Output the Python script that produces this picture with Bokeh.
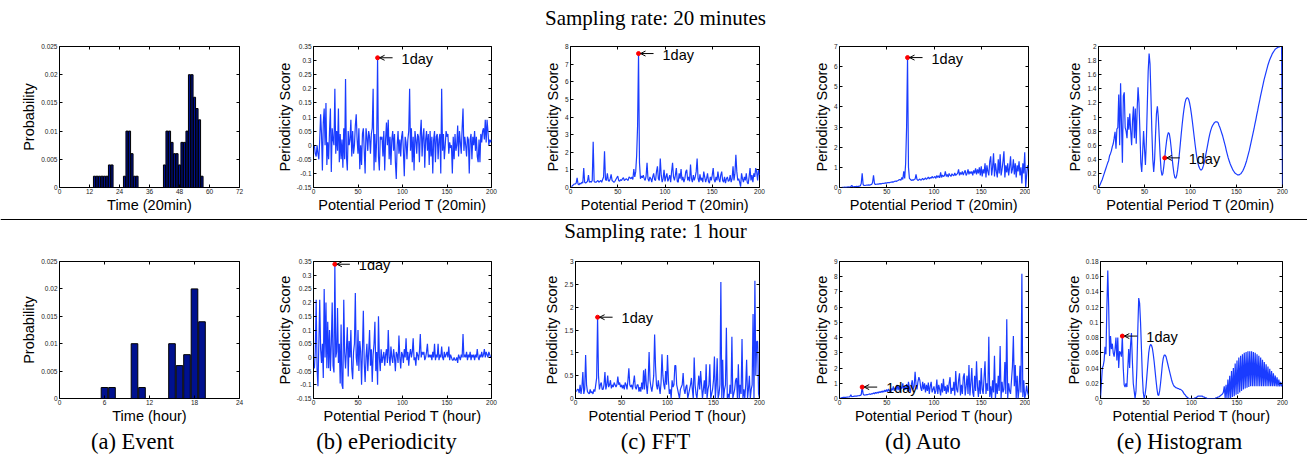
from bokeh.plotting import figure
from bokeh.models import (Range1d, FixedTicker, CustomJSTickFormatter, LinearAxis,
                          Label, Arrow, OpenHead, Span)
from bokeh.layouts import column, row
from bokeh.embed import file_html
from bokeh.resources import INLINE

# ---------------- data ----------------
event20_t = [14, 15, 16, 17, 18, 19, 20, 21, 26, 27, 28, 29, 30, 31, 42, 43, 44, 45, 46, 47,
             48, 49, 50, 51, 52, 53, 54, 55, 56, 57]
event20_p = [0.002, 0.002, 0.002, 0.002, 0.002, 0.002, 0.004, 0.004, 0.002, 0.010, 0.010, 0.006,
             0.002, 0.002, 0.004, 0.010, 0.010, 0.008, 0.006, 0.006, 0.004, 0.008, 0.008, 0.010,
             0.020, 0.020, 0.016, 0.014, 0.012, 0.002]
event1h_t = [6, 7, 10, 11, 15, 16, 17, 18, 19]
event1h_p = [0.002, 0.002, 0.010, 0.002, 0.010, 0.006, 0.008, 0.020, 0.014]

periods = list(range(1, 201))
periods0 = list(range(0, 201))

eper20 = [0.0, -0.03, -0.04, 0.0, -0.03, -0.05, 0.02, 0.11, 0.04, -0.09,
          0.08, 0.13, 0.0, 0.15, -0.07, 0.01, -0.05, 0.05, 0.13, -0.095,
          0.06, 0.02, 0.0, 0.20, -0.03, 0.05, -0.02, 0.13, -0.06, 0.04,
          -0.05, 0.02, -0.08, 0.06, -0.05, 0.235, -0.04, -0.09, 0.05, 0.0,
          0.02, 0.09, -0.04, 0.05, -0.03, 0.0, 0.07, 0.11, 0.02, -0.03,
          0.06, -0.085, 0.0, -0.07, 0.04, 0.06, -0.02, -0.10, 0.06, 0.03,
          -0.02, 0.05, 0.03, -0.03, 0.04, 0.06, 0.20, -0.09, 0.04, -0.06,
          0.02, 0.31, -0.04, -0.09, 0.03, 0.02, 0.03, -0.04, 0.05, -0.09,
          0.02, 0.08, 0.0, 0.09, -0.05, 0.03, -0.07, 0.02, 0.05, -0.02,
          0.04, -0.06, -0.12, 0.0, 0.05, -0.03, 0.02, -0.04, 0.03, 0.05,
          -0.02, -0.11, 0.03, 0.01, -0.05, 0.02, 0.05, 0.20, -0.02, 0.06,
          -0.06, 0.03, -0.09, 0.05, 0.02, -0.03, 0.04, 0.03, -0.06, 0.04,
          0.09, -0.04, 0.03, 0.06, -0.08, 0.02, 0.05, -0.02, 0.04, -0.07,
          0.05, -0.04, 0.03, -0.10, 0.02, 0.05, -0.06, 0.03, 0.04, -0.05,
          0.02, 0.04, -0.10, 0.20, -0.02, 0.04, -0.05, 0.0, 0.05, 0.03,
          0.04, -0.03, 0.01, -0.01, 0.0, -0.10, 0.03, -0.05, 0.04, -0.02,
          0.0, 0.07, -0.04, 0.05, 0.01, -0.03, 0.06, 0.13, -0.02, 0.03,
          0.0, -0.04, 0.03, 0.02, -0.10, 0.02, 0.04, -0.05, 0.03, 0.0,
          0.05, -0.02, 0.03, -0.04, -0.06, 0.02, -0.06, 0.04, 0.01, 0.05,
          0.06, 0.02, 0.09, 0.01, 0.09, 0.05, 0.0, 0.02, 0.01, 0.02]

fft20 = [0.05, 0.1, 0.15, 0.2, 0.2, 0.25, 0.55, 0.2, 0.15, 0.25,
         0.2, 0.3, 0.25, 1.1, 0.3, 0.25, 0.3, 0.35, 0.7, 0.3,
         0.35, 0.3, 0.4, 2.6, 0.35, 0.3, 0.3, 0.35, 0.4, 0.3,
         0.35, 0.4, 0.3, 0.45, 0.6, 2.05, 0.45, 0.4, 0.8, 0.4,
         0.35, 0.5, 0.75, 0.4, 0.35, 0.3, 0.35, 0.45, 0.55, 0.65,
         0.4, 0.35, 0.45, 0.4, 0.5, 0.55, 0.4, 0.45, 0.5, 0.45,
         0.4, 0.6, 0.55, 0.5, 0.6, 0.45, 1.05, 0.6, 0.9, 1.8,
         3.5, 7.6, 1.4, 0.5, 0.65, 0.55, 0.7, 0.5, 0.4, 0.65,
         1.4, 0.5, 0.35, 0.6, 0.5, 0.3, 0.6, 0.8, 0.45, 0.4,
         0.9, 1.2, 0.5, 0.4, 1.65, 0.7, 0.3, 0.5, 1.0, 0.35,
         0.6, 0.8, 0.35, 0.5, 0.7, 0.3, 0.9, 1.4, 0.6, 0.4,
         0.7, 1.1, 0.35, 0.3, 0.8, 0.5, 1.05, 0.4, 0.6, 0.3,
         0.5, 0.9, 1.0, 0.4, 0.6, 0.35, 1.3, 0.5, 0.3, 0.7,
         0.4, 0.6, 0.9, 1.65, 0.5, 0.3, 0.75, 0.4, 0.55, 0.3,
         0.9, 0.6, 0.3, 0.5, 0.8, 0.35, 0.25, 0.6, 0.4, 0.7,
         1.1, 0.45, 0.3, 0.6, 0.4, 0.9, 0.5, 0.3, 0.7, 0.9,
         0.4, 0.3, 0.6, 0.25, 0.5, 0.6, 0.35, 0.4, 0.7, 0.3,
         0.5, 1.2, 0.4, 0.8, 1.85, 0.9, 0.4, 0.5, 0.3, 0.05,
         0.8, 0.5, 0.3, 0.6, 0.4, 0.8, 0.3, 0.2, 0.6, 1.1,
         0.4, 0.7, 0.3, 0.8, 0.6, 1.1, 0.9, 0.4, 1.05, 0.7]

auto20 = [0.0, 0.0, 0.01, 0.0, 0.02, 0.01, 0.02, 0.01, 0.03, 0.02,
          0.03, 0.05, 0.1, 0.04, 0.03, 0.05, 0.04, 0.06, 0.05, 0.06,
          0.07, 0.08, 0.2, 0.7, 0.15, 0.1, 0.1, 0.11, 0.12, 0.12,
          0.13, 0.12, 0.14, 0.15, 0.25, 0.6, 0.2, 0.15, 0.16, 0.17,
          0.17, 0.18, 0.19, 0.18, 0.2, 0.21, 0.2, 0.22, 0.23, 0.22,
          0.24, 0.25, 0.24, 0.26, 0.27, 0.28, 0.27, 0.3, 0.32, 0.3,
          0.33, 0.35, 0.38, 0.4, 0.36, 0.5, 0.4, 0.8, 0.45, 1.2,
          3.0, 6.45, 1.0, 0.45, 0.4, 0.35, 0.38, 0.36, 0.4, 0.42,
          0.65, 0.4, 0.35, 0.38, 0.42, 0.36, 0.4, 0.45, 0.38, 0.42,
          0.48, 0.4, 0.45, 0.52, 0.42, 0.5, 0.46, 0.55, 0.48, 0.5,
          0.55, 0.45, 0.6, 0.5, 0.58, 0.48, 0.75, 0.5, 0.62, 0.55,
          0.58, 0.8, 0.55, 0.65, 0.52, 0.7, 0.6, 0.55, 0.68, 0.62,
          0.58, 0.72, 0.6, 0.65, 0.7, 0.9, 0.6, 0.75, 0.65, 0.8,
          0.62, 0.75, 0.85, 0.6, 0.7, 0.9, 0.65, 0.8, 0.7, 0.8,
          0.6, 0.85, 0.7, 0.95, 0.65, 0.9, 0.7, 1.0, 0.6, 1.05,
          0.55, 0.9, 0.7, 1.2, 0.5, 1.1, 0.8, 0.6, 1.3, 1.55,
          0.6, 1.0, 1.7, 0.55, 1.2, 0.8, 0.5, 1.4, 0.7, 1.65,
          0.6, 0.9, 1.3, 1.8, 0.5, 1.1, 0.75, 1.2, 0.6, 1.0,
          1.55, 0.7, 0.9, 1.4, 0.65, 1.2, 0.5, 1.1, 0.8, 1.3,
          0.6, 1.0, 0.2, 1.2, 0.7, 1.75, 0.0, 0.6, 1.1, 0.9]

histo20 = [0.0, 0.02, 0.05, 0.08, 0.11, 0.15, 0.19, 0.23, 0.27, 0.31, 0.35,
           0.38, 0.45, 0.48, 0.52, 0.58, 0.62, 0.7, 0.79, 0.55, 0.83,
           0.85, 1.32, 0.6, 1.48, 0.9, 0.35, 1.3, 1.35, 0.85, 0.8,
           0.7, 1.0, 0.82, 1.05, 0.8, 0.6, 0.95, 1.15, 0.7, 1.12,
           0.62, 1.1, 1.42, 1.2, 0.8, 0.35, 0.22, 0.5, 0.8, 0.55,
           0.32, 0.65, 1.15, 1.65, 1.9, 1.75, 1.3, 0.8, 0.4, 0.22,
           0.4, 0.75, 1.05, 1.15, 1.0, 0.72, 0.45, 0.25, 0.17, 0.2,
           0.3, 0.42, 0.55, 0.66, 0.74, 0.78, 0.76, 0.68, 0.56, 0.42,
           0.3, 0.2, 0.14, 0.13, 0.17, 0.25, 0.36, 0.49, 0.63, 0.77,
           0.9, 1.02, 1.12, 1.2, 1.25, 1.27, 1.27, 1.25, 1.2, 1.13,
           1.04, 0.94, 0.83, 0.72, 0.61, 0.51, 0.42, 0.35, 0.3, 0.27,
           0.25, 0.25, 0.27, 0.31, 0.36, 0.42, 0.49, 0.56, 0.63, 0.7,
           0.76, 0.81, 0.85, 0.88, 0.9, 0.92, 0.93, 0.93, 0.93, 0.92,
           0.88, 0.85, 0.81, 0.77, 0.73, 0.68, 0.63, 0.58, 0.52, 0.47,
           0.42, 0.38, 0.34, 0.31, 0.28, 0.25, 0.23, 0.21, 0.2, 0.19,
           0.18, 0.18, 0.18, 0.19, 0.2, 0.22, 0.24, 0.27, 0.3, 0.34,
           0.38, 0.43, 0.48, 0.53, 0.59, 0.65, 0.71, 0.77, 0.83, 0.9,
           0.96, 1.03, 1.09, 1.16, 1.22, 1.29, 1.35, 1.41, 1.47, 1.53,
           1.58, 1.63, 1.68, 1.73, 1.77, 1.81, 1.84, 1.87, 1.9, 1.92,
           1.94, 1.96, 1.97, 1.98, 1.99, 1.99, 2.0, 2.0, 2.0, 0.0]

eper1h = [-0.04, 0.02, 0.21, -0.04, -0.105, 0.05, 0.21, 0.03, -0.02, 0.05,
          -0.075, 0.25, 0.0, 0.2, -0.04, 0.13, -0.04, 0.1, -0.05, 0.05,
          0.2, -0.03, -0.055, 0.34, 0.0, 0.02, 0.18, -0.02, 0.05, -0.095,
          0.12, -0.1, -0.115, 0.21, 0.02, -0.04, 0.03, 0.11, -0.07, 0.06,
          0.0, 0.1, -0.04, -0.08, 0.02, 0.05, 0.235, 0.0, -0.03, 0.1,
          -0.05, 0.06, 0.02, -0.1, 0.03, 0.17, -0.02, -0.09, 0.0, 0.05,
          -0.05, 0.02, 0.1, -0.03, 0.03, -0.09, 0.01, 0.05, 0.13, -0.05,
          0.02, -0.1, 0.15, 0.0, -0.05, 0.03, -0.02, 0.0, 0.02, -0.03,
          0.01, 0.03, -0.02, 0.1, 0.0, -0.03, 0.04, 0.0, -0.02, 0.03,
          0.0, -0.05, 0.02, 0.01, -0.02, 0.08, 0.0, -0.04, 0.02, 0.01,
          -0.02, 0.03, 0.0, 0.07, -0.01, 0.02, -0.03, 0.01, 0.03, 0.0,
          0.02, 0.07, -0.01, 0.0, -0.03, 0.02, 0.01, -0.01, 0.02, 0.085,
          0.0, 0.02, 0.01, 0.02, -0.01, 0.0, 0.02, 0.05, 0.0, 0.01,
          0.0, 0.01, -0.01, 0.02, 0.0, 0.05, -0.01, 0.01, 0.0, 0.05,
          -0.01, 0.01, 0.0, 0.04, 0.0, -0.01, 0.02, 0.0, 0.01, 0.02,
          0.0, 0.04, -0.01, 0.01, 0.0, -0.01, -0.01, 0.0, -0.01, -0.01,
          0.0, -0.02, 0.01, 0.0, -0.01, 0.01, 0.0, 0.085, 0.0, 0.01,
          0.0, 0.02, -0.01, 0.01, 0.0, 0.02, -0.01, 0.01, 0.0, 0.01,
          -0.01, 0.01, 0.0, 0.03, 0.0, -0.01, 0.01, 0.0, 0.02, 0.0,
          0.01, 0.03, 0.0, 0.02, 0.01, 0.0, 0.02, 0.01, 0.0, 0.0]

fft1h = [0.15, 0.2, 0.2, 0.12, 0.3, 0.1, 0.25, 0.58, 0.1, 0.2,
         0.95, 0.3, 0.15, 0.12, 0.1, 0.2, 0.12, 0.15, 0.1, 0.2,
         0.15, 0.3, 0.45, 1.78, 0.5, 0.2, 0.3, 0.35, 0.2, 0.2,
         0.3, 0.58, 0.2, 0.3, 0.5, 0.25, 0.3, 0.4, 0.22, 0.3,
         0.25, 0.35, 0.3, 0.25, 0.3, 0.48, 0.3, 0.35, 0.25, 0.3,
         0.22, 0.3, 0.2, 0.35, 0.3, 0.2, 0.4, 0.66, 0.3, 0.25,
         0.3, 0.2, 0.35, 0.5, 0.25, 0.2, 0.3, 0.3, 0.15, 0.25,
         0.15, 0.35, 0.2, 0.62, 0.2, 0.65, 0.3, 0.1, 0.4, 1.02,
         0.4, 0.25, 0.15, 0.3, 0.5, 1.4, 0.7, 0.3, 0.2, 0.4,
         0.25, 0.1, 0.35, 0.97, 0.5, 0.3, 0.2, 0.6, 0.3, 0.95,
         0.4, 0.1, 0.2, 0.0, 0.4, 0.25, 0.3, 0.72, 0.72, 0.3,
         0.2, 0.1, 0.0, 0.2, 0.25, 0.3, 0.56, 0.2, 0.1, 0.25,
         0.3, 0.0, 0.1, 0.2, 0.3, 0.45, 0.2, 0.0, 0.9, 0.3,
         0.1, 0.0, 0.25, 0.5, 0.2, 0.6, 0.3, 0.0, 0.2, 0.4,
         0.1, 0.75, 0.0, 0.2, 0.3, 0.75, 0.0, 0.1, 0.2, 0.4,
         0.92, 0.0, 0.3, 0.88, 0.0, 0.1, 0.3, 2.55, 0.0, 0.85,
         0.0, 0.2, 0.3, 1.55, 0.0, 0.1, 0.0, 0.3, 0.1, 1.35,
         0.0, 0.1, 0.2, 0.4, 0.45, 0.0, 0.75, 0.0, 0.3, 0.1,
         1.3, 0.0, 0.2, 0.0, 0.3, 0.85, 0.0, 0.2, 0.5, 0.0,
         0.2, 0.3, 1.85, 0.0, 2.58, 0.5, 1.25, 1.25, 0.1, 0.0]

auto1h = [0.05, 0.05, 0.06, 0.07, 0.07, 0.08, 0.08, 0.09, 0.1, 0.1,
          0.12, 0.25, 0.12, 0.13, 0.14, 0.15, 0.15, 0.16, 0.17, 0.18,
          0.19, 0.2, 0.25, 0.75, 0.3, 0.22, 0.23, 0.24, 0.25, 0.26,
          0.28, 0.3, 0.27, 0.32, 0.3, 0.36, 0.3, 0.4, 0.33, 0.42,
          0.35, 0.45, 0.38, 0.48, 0.4, 0.5, 0.42, 0.55, 0.45, 0.6,
          0.45, 0.62, 0.5, 0.4, 0.65, 0.55, 0.8, 0.5, 0.7, 0.6,
          0.9, 0.55, 0.85, 0.5, 0.75, 0.65, 1.0, 0.55, 0.8, 0.6,
          0.95, 0.5, 1.1, 0.7, 0.4, 0.9, 1.2, 0.6, 0.8, 1.75,
          0.9, 0.6, 1.1, 1.4, 1.2, 0.7, 0.5, 1.1, 0.6, 1.0,
          0.4, 0.9, 0.5, 1.05, 0.3, 0.8, 1.1, 0.4, 0.6, 0.8,
          0.3, 0.5, 1.25, 0.3, 0.9, 0.6, 0.2, 1.0, 0.4, 1.3,
          0.5, 0.8, 0.3, 0.9, 0.4, 1.0, 1.4, 0.3, 0.7, 0.5,
          1.1, 0.2, 1.8, 0.6, 0.4, 1.2, 1.65, 0.2, 0.9, 0.3,
          1.4, 1.65, 0.2, 0.8, 1.5, 0.3, 2.2, 0.2, 1.0, 2.0,
          0.4, 0.1, 1.5, 0.5, 2.45, 0.8, 0.1, 1.2, 0.3, 2.0,
          0.6, 0.3, 1.4, 2.45, 0.3, 1.0, 0.5, 4.05, 0.1, 0.8,
          0.0, 1.2, 0.4, 2.8, 0.0, 1.0, 0.3, 1.5, 0.5, 3.45,
          0.0, 1.1, 0.4, 0.6, 2.4, 0.3, 5.2, 0.0, 1.0, 0.5,
          0.3, 1.2, 2.1, 4.1, 0.8, 2.2, 0.0, 1.5, 0.0, 0.6,
          2.15, 0.4, 8.2, 0.1, 1.2, 0.0, 0.3, 0.85, 0.4, 0.2]

histo1h = [0.0, 0.02, 0.04, 0.043, 0.05, 0.068, 0.058, 0.12, 0.168, 0.12, 0.056,
           0.082, 0.065, 0.072, 0.06, 0.055, 0.065, 0.08, 0.05, 0.08, 0.04,
           0.062, 0.06, 0.055, 0.082, 0.04, 0.018, 0.015, 0.02, 0.015, 0.04,
           0.065, 0.04, 0.07, 0.086, 0.05, 0.02, 0.01, 0.0, 0.01, 0.04,
           0.09, 0.132, 0.125, 0.1, 0.065, 0.03, 0.008, 0.0, 0.005, 0.015,
           0.03, 0.045, 0.06, 0.068, 0.071, 0.07, 0.066, 0.058, 0.048, 0.036,
           0.024, 0.013, 0.005, 0.004, 0.01, 0.02, 0.032, 0.045, 0.053, 0.057,
           0.057, 0.055, 0.05, 0.045, 0.04, 0.035, 0.03, 0.025, 0.021, 0.018,
           0.016, 0.015, 0.014, 0.014, 0.013, 0.013, 0.012, 0.012, 0.011, 0.01,
           0.008, 0.006, 0.005, 0.003, 0.002, 0.001, 0.0, 0.0, 0.0, 0.0,
           0.0, 0.0, 0.0, 0.001, 0.001, 0.002, 0.003, 0.003, 0.003, 0.003,
           0.003, 0.003, 0.002, 0.002, 0.001, 0.001, 0.0, 0.0, 0.0, 0.0,
           0.0, 0.0, 0.0, 0.0, 0.0, 0.0, 0.001, 0.001, 0.002, 0.002,
           0.003, 0.004, 0.005, 0.006, 0.008, 0.016, 0.0, 0.018, 0.0, 0.025,
           0.0, 0.03, 0.0, 0.036, 0.002, 0.04, 0.003, 0.046, 0.005, 0.05,
           0.006, 0.054, 0.008, 0.056, 0.01, 0.058, 0.012, 0.06, 0.013, 0.061,
           0.014, 0.062, 0.015, 0.062, 0.016, 0.062, 0.016, 0.061, 0.016, 0.06,
           0.016, 0.058, 0.016, 0.056, 0.016, 0.054, 0.016, 0.051, 0.016, 0.048,
           0.016, 0.045, 0.016, 0.042, 0.016, 0.039, 0.016, 0.036, 0.016, 0.033,
           0.016, 0.03, 0.016, 0.028, 0.016, 0.025, 0.016, 0.022, 0.016, 0.02]

day20 = 72
day1h = 24
row_titles = ["Sampling rate: 20 minutes", "Sampling rate: 1 hour"]
captions = ["(a) Event", "(b) ePeriodicity", "(c) FFT", "(d) Auto", "(e) Histogram"]
xlab20 = ["Time (20min)", "Potential Period T (20min)"]
xlab1h = ["Time (hour)", "Potential Period T (hour)"]

# ---------------- style ----------------
SANS = "Liberation Sans"
SERIF = "Liberation Serif"
LINE = "#1a3cff"
BAR = "#00118f"
TICKC = "#222222"
FMT = "return String(parseFloat(tick.toFixed(6)));"
W = [250, 260, 260, 260, 277]


def make_panel(w, h, bl, br, bt, bb, xr, yr, xt, yt, xlabel, ylabel):
    p = figure(width=w, height=h, x_range=Range1d(*xr), y_range=Range1d(*yr),
               output_backend="svg", toolbar_location=None, tools="",
               min_border_left=bl, min_border_right=br,
               min_border_top=bt, min_border_bottom=bb,
               x_axis_type=None, y_axis_type=None)
    p.outline_line_color = "black"
    p.outline_line_width = 1
    p.background_fill_color = "white"
    p.border_fill_color = "white"
    common = dict(major_tick_in=3, major_tick_out=0, minor_tick_in=0, minor_tick_out=0,
                  axis_line_color=None, major_tick_line_color="black",
                  major_label_text_font=SANS, major_label_text_font_size="6.5px",
                  major_label_text_color=TICKC,
                  axis_label_text_font=SANS, axis_label_text_font_size="14.5px",
                  axis_label_text_font_style="normal", axis_label_text_color="black")
    xa = LinearAxis(ticker=FixedTicker(ticks=xt, minor_ticks=[]),
                    formatter=CustomJSTickFormatter(code=FMT),
                    axis_label=xlabel, major_label_standoff=1, axis_label_standoff=0, **common)
    ya = LinearAxis(ticker=FixedTicker(ticks=yt, minor_ticks=[]),
                    formatter=CustomJSTickFormatter(code=FMT),
                    axis_label=ylabel, major_label_standoff=2, axis_label_standoff=1, **common)
    p.add_layout(xa, "below")
    p.add_layout(ya, "left")
    # mirrored inward ticks on the top and right edges (MATLAB box style)
    for loc, tk in (("above", xt), ("right", yt)):
        ax = LinearAxis(ticker=FixedTicker(ticks=tk, minor_ticks=[]),
                        formatter=CustomJSTickFormatter(code="return '';"),
                        major_label_text_font_size="6.5px", major_label_standoff=0,
                        major_tick_in=3, major_tick_out=0, minor_tick_in=0, minor_tick_out=0,
                        axis_line_color=None, major_tick_line_color="black")
        p.add_layout(ax, loc)
    return p


def mark_day(p, xs, ys, day, w, bl, br, xr):
    i = xs.index(day)
    px, py = xs[i], ys[i]
    ux = (xr[1] - xr[0]) / (w - bl - br)
    p.add_layout(Arrow(end=OpenHead(size=5, line_width=1, line_color="black"),
                       x_start=px + 15 * ux, y_start=py, x_end=px + 2 * ux, y_end=py,
                       line_width=1, line_color="black"))
    p.scatter([px], [py], size=4, color="red", line_color="red")
    p.add_layout(Label(x=px, y=py, x_offset=24, y_offset=-1, text="1day", text_font=SANS,
                       text_font_size="14.5px", text_baseline="middle", text_color="black"))


def exp_label(p, xr, yr, expo):
    p.add_layout(Label(x=xr[0], y=yr[1], y_offset=2, text="x 10", text_font=SANS,
                       text_font_size="5px", text_baseline="bottom", text_color=TICKC))
    p.add_layout(Label(x=xr[0], y=yr[1], x_offset=9, y_offset=4, text=expo, text_font=SANS,
                       text_font_size="4px", text_baseline="bottom", text_color=TICKC))


def text_fig(w, h, items, line_y=None):
    p = figure(width=w, height=h, x_range=Range1d(0, w), y_range=Range1d(0, h),
               output_backend="svg", toolbar_location=None, tools="",
               min_border=0, x_axis_type=None, y_axis_type=None)
    p.outline_line_color = None
    p.background_fill_color = "white"
    p.border_fill_color = "white"
    if line_y is not None:
        p.add_layout(Span(location=line_y, dimension="width", line_color="black", line_width=1))
    for (x, y, t, size) in items:
        p.add_layout(Label(x=x, y=y, text=t, text_font=SERIF, text_font_size=size,
                           text_align="center", text_baseline="middle", text_color="black"))
    return p


ptk = [0, 50, 100, 150, 200]
xr_p = (0, 200)


def build_row(h, specs, event_t, event_p, event_xr, event_xt, series, day, xlabs,
              yranges, yticks, bar_w, expo):
    figs = []
    bl, br, bt, bb = specs[0]
    pa = make_panel(W[0], h, bl, br, bt, bb, event_xr, (0, 0.025), event_xt,
                    [0, 0.005, 0.01, 0.015, 0.02, 0.025], xlabs[0], "Probability")
    pa.vbar(x=event_t, top=event_p, width=bar_w, fill_color=BAR, line_color="black",
            line_width=1)
    figs.append(pa)
    for k in range(4):
        bl, br, bt, bb = specs[k + 1]
        xs = periods0 if k == 3 else periods
        p = make_panel(W[k + 1], h, bl, br, bt, bb, xr_p, yranges[k], ptk, yticks[k],
                       xlabs[1], "Periodicity Score")
        p.line(xs, series[k], line_color=LINE, line_width=1.2)
        mark_day(p, xs, series[k], day, W[k + 1], bl, br, xr_p)
        if k == 2:
            exp_label(p, xr_p, yranges[k], expo)
        figs.append(p)
    return row(*figs)


def frange(a, b, s):
    out = []
    v = a
    while v <= b + 1e-9:
        out.append(round(v, 6))
        v += s
    return out


top = build_row(182,
                [(59, 11, 11, 28), (63, 19, 12, 28), (60, 11, 8, 29), (69, 2, 8, 29), (68, 25, 12, 28)],
                event20_t, event20_p, (0, 72), [0, 12, 24, 36, 48, 60, 72],
                [eper20, fft20, auto20, histo20], day20, xlab20,
                [(-0.15, 0.35), (0, 8), (0, 7), (0, 2)],
                [frange(-0.15, 0.35, 0.05), frange(0, 8, 1), frange(0, 7, 1), frange(0, 2, 0.2)],
                0.85, "6")

bottom = build_row(184,
                   [(59, 11, 17, 24), (63, 19, 18, 24), (65, 11, 18, 24), (69, 2, 14, 25), (70, 25, 19, 24)],
                   event1h_t, event1h_p, (0, 24), [0, 6, 12, 18, 24],
                   [eper1h, fft1h, auto1h, histo1h], day1h, xlab1h,
                   [(-0.15, 0.35), (0, 3), (0, 9), (0, 0.18)],
                   [frange(-0.15, 0.35, 0.05), frange(0, 3, 0.5), frange(0, 9, 1), frange(0, 0.18, 0.02)],
                   0.88, "5")

title1 = text_fig(1307, 34, [(655, 17, row_titles[0], "21px")])
title2 = text_fig(1307, 26, [(655, 12, row_titles[1], "21px")], line_y=23)
capfig = text_fig(1307, 32, [(132, 17, captions[0], "22.5px"), (386, 17, captions[1], "22.5px"),
                             (655, 17, captions[2], "22.5px"), (923, 17, captions[3], "22.5px"),
                             (1179, 17, captions[4], "22.5px")])

layout = column(title1, top, title2, bottom, capfig)
open("out.html", "w").write(file_html(layout, INLINE))
